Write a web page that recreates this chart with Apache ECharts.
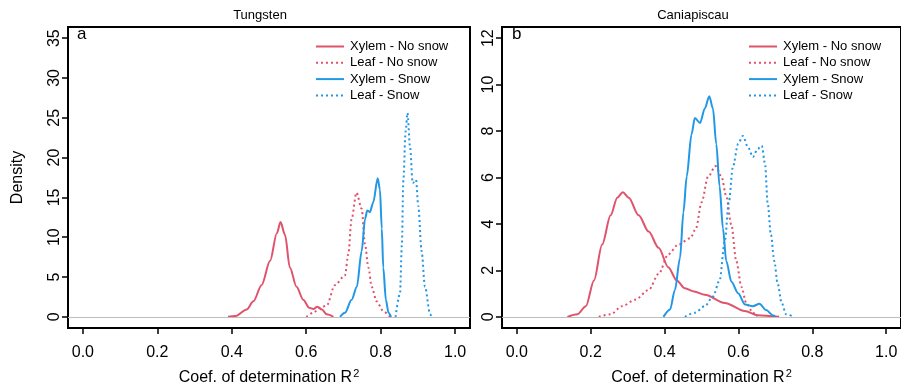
<!DOCTYPE html>
<html>
<head>
<meta charset="utf-8">
<script src="https://cdn.jsdelivr.net/npm/echarts@6/dist/echarts.min.js"></script>
<style>
  body { margin: 0; background: #fff; }
  #chart { width: 901px; height: 391px; }
</style>
</head>
<body>
<div id="chart"></div>
<script>
const seriesNames = ['Xylem - No snow', 'Leaf - No snow', 'Xylem - Snow', 'Leaf - Snow']
const xTicks = [0, 0.2, 0.4, 0.6, 0.8, 1.0]
const tungYTicks = [0, 5, 10, 15, 20, 25, 30, 35]
const caniYTicks = [0, 2, 4, 6, 8, 10, 12]

// Tungsten densities, [R2, density]
const tungXylemNoSnow = [[0.39, 0], [0.41, 0.1], [0.44, 0.93], [0.458, 1.95], [0.48, 3.98], [0.503, 7.04], [0.521, 10.5], [0.531, 11.9], [0.543, 10.3], [0.556, 6.2], [0.574, 3.78], [0.592, 2.15], [0.608, 1.14], [0.619, 1.0], [0.63, 1.26], [0.642, 0.93], [0.655, 0.32], [0.673, 0]]
const tungLeafNoSnow = [[0.60, 0], [0.619, 0.52], [0.637, 1.14], [0.655, 1.42], [0.677, 3.98], [0.704, 5.2], [0.713, 7.85], [0.722, 12.3], [0.735, 15.6], [0.749, 13.56], [0.758, 9.08], [0.767, 6.2], [0.776, 3.78], [0.789, 1.95], [0.807, 0.73], [0.825, 0.1], [0.832, 0]]
const tungXylemSnow = [[0.691, 0], [0.704, 0.5], [0.722, 2.15], [0.736, 3.78], [0.749, 8.26], [0.758, 12.3], [0.764, 13.35], [0.771, 13.15], [0.78, 14.37], [0.792, 17.4], [0.798, 16.0], [0.803, 11.1], [0.807, 6.2], [0.814, 2.15], [0.821, 0.52], [0.828, 0]]
const tungLeafSnow = [[0.84, 0], [0.852, 2.97], [0.857, 9.08], [0.861, 17.2], [0.867, 23.3], [0.872, 25.6], [0.879, 21.3], [0.886, 16.8], [0.895, 17.2], [0.901, 13.96], [0.91, 8.26], [0.919, 3.78], [0.933, 0.32], [0.937, 0]]

// Caniapiscau densities
const caniXylemNoSnow = [[0.137, 0], [0.164, 0.11], [0.187, 0.46], [0.209, 1.57], [0.231, 3.11], [0.254, 4.37], [0.272, 5.13], [0.287, 5.37], [0.303, 5.13], [0.33, 4.37], [0.357, 3.67], [0.384, 2.97], [0.41, 2.14], [0.433, 1.57], [0.455, 1.23], [0.48, 1.09], [0.509, 0.95], [0.563, 0.6], [0.617, 0.25], [0.652, 0.07], [0.71, 0]]
const caniLeafNoSnow = [[0.222, 0], [0.254, 0.11], [0.285, 0.46], [0.321, 0.74], [0.357, 1.16], [0.384, 1.85], [0.41, 2.69], [0.437, 3.11], [0.47, 3.39], [0.485, 3.81], [0.5, 4.92], [0.518, 6.04], [0.538, 6.49], [0.554, 6.04], [0.567, 5.2], [0.581, 3.95], [0.594, 2.41], [0.608, 1.3], [0.621, 0.6], [0.639, 0.18], [0.65, 0]]
const caniXylemSnow = [[0.397, 0], [0.415, 0.32], [0.428, 1.16], [0.442, 2.55], [0.451, 4.5], [0.46, 6.04], [0.473, 7.86], [0.482, 8.56], [0.496, 8.35], [0.509, 8.97], [0.521, 9.5], [0.531, 8.97], [0.54, 7.44], [0.549, 5.62], [0.558, 3.81], [0.567, 2.41], [0.581, 1.51], [0.599, 1.02], [0.618, 0.53], [0.639, 0.46], [0.657, 0.56], [0.675, 0.29], [0.693, 0.07], [0.70, 0]]
const caniLeafSnow = [[0.455, 0], [0.482, 0.18], [0.509, 0.46], [0.531, 0.88], [0.549, 1.57], [0.563, 3.25], [0.574, 4.92], [0.585, 6.46], [0.599, 7.44], [0.612, 7.79], [0.626, 7.3], [0.639, 6.88], [0.652, 7.23], [0.663, 7.37], [0.672, 6.6], [0.679, 4.92], [0.688, 3.53], [0.697, 2.41], [0.706, 1.44], [0.717, 0.6], [0.729, 0.11], [0.75, 0]]

const red = '#DF536B'
const blue = '#2297E6'
const font = 'Liberation Sans, Arial, sans-serif'

function makeSeries(name, data, color, dotted, idx, zeroLine) {
  const s = {
    name: name,
    type: 'line',
    xAxisIndex: idx,
    yAxisIndex: idx,
    data: data,
    symbol: 'none',
    smooth: 0.3,
    smoothMonotone: 'x',
    lineStyle: { color: color, width: 2, type: dotted ? [2, 3] : 'solid' },
    itemStyle: { color: color },
    animation: false
  }
  if (zeroLine) {
    s.markLine = {
      silent: true,
      symbol: ['none', 'none'],
      label: { show: false },
      lineStyle: { color: '#bebebe', type: 'solid', width: 1 },
      data: [{ yAxis: 0 }],
      animation: false
    }
  }
  return s
}

function xAxisFor(idx) {
  return {
    type: 'value',
    gridIndex: idx,
    min: -0.04,
    max: 1.04,
    axisLine: { show: false, onZero: false },
    splitLine: { show: false },
    axisTick: { show: true, customValues: xTicks, length: 6, lineStyle: { color: '#000', width: 1.5 } },
    axisLabel: { customValues: xTicks, formatter: v => v.toFixed(1), color: '#000', fontSize: 16, fontFamily: font, margin: 17 },
    name: 'Coef. of determination R{sup|2}',
    nameLocation: 'middle',
    nameGap: 40,
    nameTextStyle: {
      color: '#000', fontSize: 16, fontFamily: font,
      rich: { sup: { fontSize: 11, fontFamily: font, color: '#000', verticalAlign: 'bottom', padding: [0, 0, 9, 1] } }
    }
  }
}

function yAxisFor(idx, ticks, lo, hi, withName) {
  return {
    type: 'value',
    gridIndex: idx,
    min: lo,
    max: hi,
    axisLine: { show: false, onZero: false },
    splitLine: { show: false },
    axisTick: { show: true, customValues: ticks, length: 6, lineStyle: { color: '#000', width: 1.5 } },
    axisLabel: { customValues: ticks, rotate: 90, color: '#000', fontSize: 16, fontFamily: font, margin: 5 },
    name: withName ? 'Density' : '',
    nameLocation: 'middle',
    nameRotate: 90,
    nameGap: 42,
    nameTextStyle: { color: '#000', fontSize: 16, fontFamily: font }
  }
}

function legendFor(left) {
  return {
    left: left,
    top: 35,
    orient: 'vertical',
    itemWidth: 28,
    itemHeight: 14,
    itemGap: 3.3,
    data: seriesNames,
    selectedMode: false,
    itemStyle: { opacity: 0 },
    textStyle: { color: '#000', fontSize: 13, fontFamily: font, padding: [0, 0, 0, 1] }
  }
}

const chart = echarts.init(document.getElementById('chart'))
chart.setOption({
  backgroundColor: '#fff',
  animation: false,
  grid: [
    { left: 68, top: 27, width: 402, height: 309, show: true, borderColor: '#000', borderWidth: 2 },
    { left: 502, top: 27, width: 402, height: 309, show: true, borderColor: '#000', borderWidth: 2 }
  ],
  xAxis: [xAxisFor(0), xAxisFor(1)],
  yAxis: [
    yAxisFor(0, tungYTicks, -1.4, 36.4, true),
    yAxisFor(1, caniYTicks, -0.48, 12.48, false)
  ],
  legend: [legendFor(310), legendFor(743)],
  graphic: [
    { type: 'text', x: 260, y: 15, style: { text: 'Tungsten', fill: '#000', font: '13px ' + font, textAlign: 'center', textVerticalAlign: 'middle' } },
    { type: 'text', x: 693, y: 15, style: { text: 'Caniapiscau', fill: '#000', font: '13px ' + font, textAlign: 'center', textVerticalAlign: 'middle' } },
    { type: 'text', x: 77, y: 34, style: { text: 'a', fill: '#000', font: '17px ' + font, textVerticalAlign: 'middle' } },
    { type: 'text', x: 512, y: 34, style: { text: 'b', fill: '#000', font: '17px ' + font, textVerticalAlign: 'middle' } }
  ],
  series: [
    makeSeries(seriesNames[0], tungXylemNoSnow, red, false, 0, true),
    makeSeries(seriesNames[1], tungLeafNoSnow, red, true, 0, false),
    makeSeries(seriesNames[2], tungXylemSnow, blue, false, 0, false),
    makeSeries(seriesNames[3], tungLeafSnow, blue, true, 0, false),
    makeSeries(seriesNames[0], caniXylemNoSnow, red, false, 1, true),
    makeSeries(seriesNames[1], caniLeafNoSnow, red, true, 1, false),
    makeSeries(seriesNames[2], caniXylemSnow, blue, false, 1, false),
    makeSeries(seriesNames[3], caniLeafSnow, blue, true, 1, false)
  ]
})
</script>
</body>
</html>
